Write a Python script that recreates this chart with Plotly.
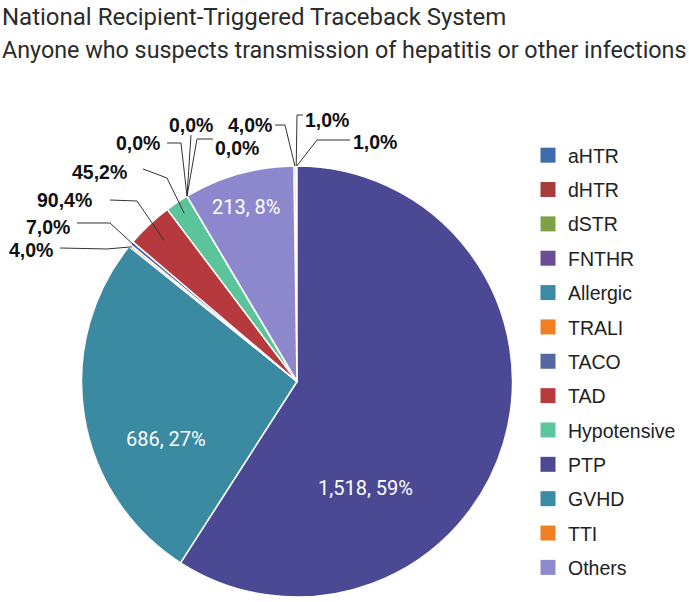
import plotly.graph_objects as go
import math

W, H = 689, 602

categories = ['aHTR', 'dHTR', 'dSTR', 'FNTHR', 'Allergic', 'TRALI', 'TACO', 'TAD',
              'Hypotensive', 'PTP', 'GVHD', 'TTI', 'Others']
counts = [4, 1, 1, 1518, 686, 4, 7, 90, 45, 0, 0, 0, 213]

# colours of the slices as they are drawn in the pie
slice_colors = ['#14147e', '#a63d3b', '#7fa144', '#4b4994', '#3a8aa2', '#f27f22', '#5466a2',
                '#b63a3d', '#5bc49b', '#4b4994', '#3a8aa2', '#f27f22', '#8d88ce']
# legend swatches (aHTR / FNTHR swatches differ from their slices in the original)
legend_colors = ['#3f6caa', '#a63d3b', '#7fa144', '#6b4e96', '#3a8ca4', '#f07e22', '#5467a2',
                 '#b83a3e', '#5bc69c', '#4c4894', '#3a8ca4', '#f07e22', '#8f89cf']

title = 'National Recipient-Triggered Traceback System'
subtitle = 'Anyone who suspects transmission of hepatitis or other infections'

# pie geometry (pixels)
PIE_CX, PIE_CY, PIE_R = 297, 381.5, 215.5

total = sum(counts)
# the three tiny first slices end exactly at 12 o'clock
start_angle = -360 * sum(counts[:3]) / total


def to_paper(x, y):
    return x / W, 1 - y / H


def pct(v):
    return round(100 * v / total)


mids = []
cum = 0
for v in counts:
    mids.append(start_angle + 360 * (cum + v / 2) / total)
    cum += v

# label layout: text centre, leader line points from text side, depth of the leader end
outside_labels = {
    'TRALI': ((31, 250), [(60, 248), (107, 249)], 0.99),
    'TACO': ((48, 227), [(77, 223), (110, 223)], 0.98),
    'TAD': ((64, 200), [(110, 200), (137, 201)], 0.90),
    'Hypotensive': ((99, 172), [(143, 169), (167, 178)], 0.94),
    'PTP': ((138, 143), [(167, 143), (181, 143)], 1.0),
    'GVHD': ((191, 125), [(191, 135)], 1.0),
    'TTI': ((237, 148), [(213, 139), (197, 139)], 1.0),
    'aHTR': ((250, 125), [(275, 125), (285, 125)], 1.0),
    'dHTR': ((327, 120), [(303, 115), (297, 115)], 1.0),
    'dSTR': ((375, 142), [(350, 140), (317, 140)], 1.0),
}
inside_labels = {'FNTHR': (365, 488), 'Allergic': (166, 439), 'Others': (247, 207)}

fig = go.Figure()

dx0, _ = to_paper(PIE_CX - PIE_R, 0)
dx1, _ = to_paper(PIE_CX + PIE_R, 0)
_, dy1 = to_paper(0, PIE_CY - PIE_R)
_, dy0 = to_paper(0, PIE_CY + PIE_R)

fig.add_trace(go.Pie(labels=categories,
                     values=counts,
                     sort=False,
                     direction='clockwise',
                     rotation=start_angle,
                     marker=dict(colors=slice_colors, line=dict(color='white', width=1.5)),
                     textinfo='none',
                     showlegend=False,
                     domain=dict(x=[dx0, dx1], y=[dy0, dy1])))

# legend entries
for cat, col in zip(categories, legend_colors):
    fig.add_trace(go.Scatter(x=[None], y=[None], mode='markers', name=cat, legendgroup=cat,
                             marker=dict(symbol='square', size=15, color=col)))

annotations = []
shapes = []
for cat, ((tx, ty), pts, depth) in outside_labels.items():
    i = categories.index(cat)
    v = counts[i]
    px, py = to_paper(tx, ty)
    annotations.append(dict(x=px, y=py, xref='paper', yref='paper', showarrow=False,
                            xanchor='center', yanchor='middle',
                            text=f'<b>{v},{pct(v)}%</b>',
                            font=dict(family='Arial', size=19.5, color='#111111')))
    a = math.radians(mids[i])
    ax = PIE_CX + depth * PIE_R * math.sin(a)
    ay = PIE_CY - depth * PIE_R * math.cos(a)
    path_pts = [to_paper(x, y) for x, y in pts + [(ax, ay)]]
    path = 'M ' + ' L '.join(f'{x:.5f},{y:.5f}' for x, y in path_pts)
    shapes.append(dict(type='path', path=path, xref='paper', yref='paper',
                       line=dict(color='#333333', width=1)))

for cat, (tx, ty) in inside_labels.items():
    v = counts[categories.index(cat)]
    px, py = to_paper(tx, ty)
    annotations.append(dict(x=px, y=py, xref='paper', yref='paper', showarrow=False,
                            xanchor='center', yanchor='middle',
                            text=f'{v:,}, {pct(v)}%',
                            font=dict(family='Roboto', size=20, color='white')))

annotations.append(dict(x=0, y=1 - 1 / H, xref='paper', yref='paper', xanchor='left', yanchor='top',
                        showarrow=False, text=title,
                        font=dict(family='Roboto', size=24, color='#2b2b2b')))
annotations.append(dict(x=0, y=1 - 34 / H, xref='paper', yref='paper', xanchor='left', yanchor='top',
                        showarrow=False, text=subtitle,
                        font=dict(family='Roboto', size=23.3, color='#2b2b2b')))

fig.update_layout(width=W, height=H,
                  margin=dict(l=0, r=0, t=0, b=0, autoexpand=False),
                  paper_bgcolor='white', plot_bgcolor='white',
                  xaxis=dict(visible=False), yaxis=dict(visible=False),
                  legend=dict(x=528 / W, y=1 - 136 / H, xanchor='left', yanchor='top',
                              traceorder='grouped', tracegroupgap=6,
                              font=dict(family='Arial', size=19.5, color='#222222')),
                  annotations=annotations, shapes=shapes)

# the page body has a default 8px margin; drop it so the figure fills the window
fig.write_html('out.html', config={'displayModeBar': False},
               post_script="document.body.style.margin='0';")
